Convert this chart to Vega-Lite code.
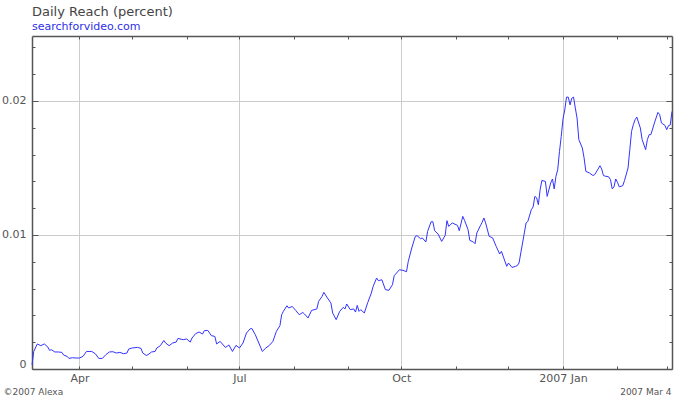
{
  "$schema": "https://vega.github.io/schema/vega-lite/v6.json",
  "width": 640,
  "height": 333,
  "autosize": {"type": "none"},
  "padding": {"left": 32, "top": 36, "right": 28, "bottom": 31},
  "background": "white",
  "title": {
    "text": "Daily Reach (percent)",
    "subtitle": "searchforvideo.com",
    "anchor": "start",
    "frame": "group",
    "font": "DejaVu Sans",
    "fontSize": 13,
    "fontWeight": "normal",
    "color": "#444444",
    "subtitleFont": "DejaVu Sans",
    "subtitleFontSize": 11,
    "subtitleColor": "#2f2fe8",
    "subtitlePadding": 2,
    "offset": 4
  },
  "config": {"view": {"stroke": null}},
  "data": {
    "values": [
      {"date": "2006-03-05", "reach": 0.00032},
      {"date": "2006-03-06", "reach": 0.00131},
      {"date": "2006-03-08", "reach": 0.00187},
      {"date": "2006-03-10", "reach": 0.00174},
      {"date": "2006-03-12", "reach": 0.00187},
      {"date": "2006-03-14", "reach": 0.00164},
      {"date": "2006-03-15", "reach": 0.00139},
      {"date": "2006-03-16", "reach": 0.00144},
      {"date": "2006-03-18", "reach": 0.00127},
      {"date": "2006-03-20", "reach": 0.00127},
      {"date": "2006-03-22", "reach": 0.00124},
      {"date": "2006-03-23", "reach": 0.00104},
      {"date": "2006-03-25", "reach": 0.00094},
      {"date": "2006-03-26", "reach": 0.00079},
      {"date": "2006-03-28", "reach": 0.00084},
      {"date": "2006-03-30", "reach": 0.00082},
      {"date": "2006-04-01", "reach": 0.00082},
      {"date": "2006-04-03", "reach": 0.00094},
      {"date": "2006-04-05", "reach": 0.00131},
      {"date": "2006-04-08", "reach": 0.00131},
      {"date": "2006-04-10", "reach": 0.00114},
      {"date": "2006-04-12", "reach": 0.00079},
      {"date": "2006-04-14", "reach": 0.00079},
      {"date": "2006-04-16", "reach": 0.00107},
      {"date": "2006-04-18", "reach": 0.00127},
      {"date": "2006-04-20", "reach": 0.00129},
      {"date": "2006-04-22", "reach": 0.00119},
      {"date": "2006-04-24", "reach": 0.00124},
      {"date": "2006-04-26", "reach": 0.00114},
      {"date": "2006-04-28", "reach": 0.00119},
      {"date": "2006-04-29", "reach": 0.00149},
      {"date": "2006-05-01", "reach": 0.00157},
      {"date": "2006-05-04", "reach": 0.00161},
      {"date": "2006-05-06", "reach": 0.00154},
      {"date": "2006-05-07", "reach": 0.00119},
      {"date": "2006-05-09", "reach": 0.00101},
      {"date": "2006-05-10", "reach": 0.00107},
      {"date": "2006-05-12", "reach": 0.00127},
      {"date": "2006-05-14", "reach": 0.00131},
      {"date": "2006-05-15", "reach": 0.00157},
      {"date": "2006-05-17", "reach": 0.00174},
      {"date": "2006-05-19", "reach": 0.00213},
      {"date": "2006-05-20", "reach": 0.00194},
      {"date": "2006-05-22", "reach": 0.00174},
      {"date": "2006-05-24", "reach": 0.00194},
      {"date": "2006-05-26", "reach": 0.00201},
      {"date": "2006-05-27", "reach": 0.00228},
      {"date": "2006-05-30", "reach": 0.00219},
      {"date": "2006-06-01", "reach": 0.00224},
      {"date": "2006-06-03", "reach": 0.00201},
      {"date": "2006-06-04", "reach": 0.00231},
      {"date": "2006-06-06", "reach": 0.00263},
      {"date": "2006-06-08", "reach": 0.00276},
      {"date": "2006-06-10", "reach": 0.00261},
      {"date": "2006-06-11", "reach": 0.00286},
      {"date": "2006-06-13", "reach": 0.00288},
      {"date": "2006-06-15", "reach": 0.00249},
      {"date": "2006-06-17", "reach": 0.00243},
      {"date": "2006-06-18", "reach": 0.00187},
      {"date": "2006-06-20", "reach": 0.00206},
      {"date": "2006-06-23", "reach": 0.00161},
      {"date": "2006-06-25", "reach": 0.00179},
      {"date": "2006-06-27", "reach": 0.00131},
      {"date": "2006-06-29", "reach": 0.00176},
      {"date": "2006-07-01", "reach": 0.00157},
      {"date": "2006-07-03", "reach": 0.00194},
      {"date": "2006-07-05", "reach": 0.00269},
      {"date": "2006-07-07", "reach": 0.00299},
      {"date": "2006-07-08", "reach": 0.00303},
      {"date": "2006-07-10", "reach": 0.00256},
      {"date": "2006-07-12", "reach": 0.00194},
      {"date": "2006-07-14", "reach": 0.00131},
      {"date": "2006-07-16", "reach": 0.00157},
      {"date": "2006-07-18", "reach": 0.00176},
      {"date": "2006-07-20", "reach": 0.00206},
      {"date": "2006-07-22", "reach": 0.00281},
      {"date": "2006-07-24", "reach": 0.00323},
      {"date": "2006-07-25", "reach": 0.00405},
      {"date": "2006-07-26", "reach": 0.00431},
      {"date": "2006-07-28", "reach": 0.00472},
      {"date": "2006-07-29", "reach": 0.00455},
      {"date": "2006-07-31", "reach": 0.00467},
      {"date": "2006-08-02", "reach": 0.00437},
      {"date": "2006-08-04", "reach": 0.00405},
      {"date": "2006-08-06", "reach": 0.00422},
      {"date": "2006-08-07", "reach": 0.00410},
      {"date": "2006-08-09", "reach": 0.00381},
      {"date": "2006-08-11", "reach": 0.00437},
      {"date": "2006-08-14", "reach": 0.00448},
      {"date": "2006-08-15", "reach": 0.00504},
      {"date": "2006-08-17", "reach": 0.00542},
      {"date": "2006-08-18", "reach": 0.00572},
      {"date": "2006-08-20", "reach": 0.00530},
      {"date": "2006-08-22", "reach": 0.00493},
      {"date": "2006-08-23", "reach": 0.00418},
      {"date": "2006-08-25", "reach": 0.00368},
      {"date": "2006-08-27", "reach": 0.00430},
      {"date": "2006-08-29", "reach": 0.00460},
      {"date": "2006-08-30", "reach": 0.00448},
      {"date": "2006-08-31", "reach": 0.00485},
      {"date": "2006-09-02", "reach": 0.00443},
      {"date": "2006-09-04", "reach": 0.00448},
      {"date": "2006-09-05", "reach": 0.00425},
      {"date": "2006-09-06", "reach": 0.00475},
      {"date": "2006-09-07", "reach": 0.00430},
      {"date": "2006-09-08", "reach": 0.00443},
      {"date": "2006-09-10", "reach": 0.00418},
      {"date": "2006-09-12", "reach": 0.00497},
      {"date": "2006-09-14", "reach": 0.00567},
      {"date": "2006-09-15", "reach": 0.00616},
      {"date": "2006-09-17", "reach": 0.00679},
      {"date": "2006-09-18", "reach": 0.00659},
      {"date": "2006-09-20", "reach": 0.00666},
      {"date": "2006-09-22", "reach": 0.00592},
      {"date": "2006-09-24", "reach": 0.00587},
      {"date": "2006-09-26", "reach": 0.00629},
      {"date": "2006-09-27", "reach": 0.00696},
      {"date": "2006-09-30", "reach": 0.00741},
      {"date": "2006-10-02", "reach": 0.00736},
      {"date": "2006-10-04", "reach": 0.00726},
      {"date": "2006-10-05", "reach": 0.00803},
      {"date": "2006-10-07", "reach": 0.00903},
      {"date": "2006-10-09", "reach": 0.00990},
      {"date": "2006-10-10", "reach": 0.00995},
      {"date": "2006-10-12", "reach": 0.00972},
      {"date": "2006-10-13", "reach": 0.00978},
      {"date": "2006-10-15", "reach": 0.00948},
      {"date": "2006-10-16", "reach": 0.01027},
      {"date": "2006-10-18", "reach": 0.01099},
      {"date": "2006-10-19", "reach": 0.01099},
      {"date": "2006-10-20", "reach": 0.01032},
      {"date": "2006-10-22", "reach": 0.01007},
      {"date": "2006-10-24", "reach": 0.00952},
      {"date": "2006-10-26", "reach": 0.00997},
      {"date": "2006-10-27", "reach": 0.01107},
      {"date": "2006-10-28", "reach": 0.01064},
      {"date": "2006-10-30", "reach": 0.01090},
      {"date": "2006-10-31", "reach": 0.01084},
      {"date": "2006-11-02", "reach": 0.01072},
      {"date": "2006-11-03", "reach": 0.01032},
      {"date": "2006-11-05", "reach": 0.01139},
      {"date": "2006-11-06", "reach": 0.01109},
      {"date": "2006-11-08", "reach": 0.01040},
      {"date": "2006-11-09", "reach": 0.00960},
      {"date": "2006-11-11", "reach": 0.00948},
      {"date": "2006-11-12", "reach": 0.00935},
      {"date": "2006-11-13", "reach": 0.01015},
      {"date": "2006-11-15", "reach": 0.01069},
      {"date": "2006-11-16", "reach": 0.01094},
      {"date": "2006-11-17", "reach": 0.01127},
      {"date": "2006-11-18", "reach": 0.01090},
      {"date": "2006-11-20", "reach": 0.00990},
      {"date": "2006-11-22", "reach": 0.00978},
      {"date": "2006-11-24", "reach": 0.00915},
      {"date": "2006-11-26", "reach": 0.00858},
      {"date": "2006-11-27", "reach": 0.00878},
      {"date": "2006-11-30", "reach": 0.00766},
      {"date": "2006-12-01", "reach": 0.00791},
      {"date": "2006-12-03", "reach": 0.00758},
      {"date": "2006-12-05", "reach": 0.00766},
      {"date": "2006-12-06", "reach": 0.00771},
      {"date": "2006-12-07", "reach": 0.00791},
      {"date": "2006-12-08", "reach": 0.00866},
      {"date": "2006-12-09", "reach": 0.00940},
      {"date": "2006-12-11", "reach": 0.01090},
      {"date": "2006-12-12", "reach": 0.01101},
      {"date": "2006-12-14", "reach": 0.01189},
      {"date": "2006-12-15", "reach": 0.01209},
      {"date": "2006-12-16", "reach": 0.01288},
      {"date": "2006-12-17", "reach": 0.01278},
      {"date": "2006-12-18", "reach": 0.01226},
      {"date": "2006-12-19", "reach": 0.01338},
      {"date": "2006-12-20", "reach": 0.01407},
      {"date": "2006-12-22", "reach": 0.01400},
      {"date": "2006-12-23", "reach": 0.01288},
      {"date": "2006-12-25", "reach": 0.01388},
      {"date": "2006-12-26", "reach": 0.01418},
      {"date": "2006-12-27", "reach": 0.01344},
      {"date": "2006-12-28", "reach": 0.01438},
      {"date": "2006-12-29", "reach": 0.01487},
      {"date": "2006-12-30", "reach": 0.01623},
      {"date": "2006-12-31", "reach": 0.01735},
      {"date": "2007-01-01", "reach": 0.01865},
      {"date": "2007-01-02", "reach": 0.01933},
      {"date": "2007-01-03", "reach": 0.02029},
      {"date": "2007-01-04", "reach": 0.02029},
      {"date": "2007-01-05", "reach": 0.01971},
      {"date": "2007-01-06", "reach": 0.02021},
      {"date": "2007-01-07", "reach": 0.02029},
      {"date": "2007-01-08", "reach": 0.01948},
      {"date": "2007-01-09", "reach": 0.01873},
      {"date": "2007-01-10", "reach": 0.01712},
      {"date": "2007-01-12", "reach": 0.01649},
      {"date": "2007-01-13", "reach": 0.01575},
      {"date": "2007-01-14", "reach": 0.01475},
      {"date": "2007-01-16", "reach": 0.01463},
      {"date": "2007-01-18", "reach": 0.01444},
      {"date": "2007-01-19", "reach": 0.01450},
      {"date": "2007-01-21", "reach": 0.01493},
      {"date": "2007-01-22", "reach": 0.01517},
      {"date": "2007-01-23", "reach": 0.01493},
      {"date": "2007-01-24", "reach": 0.01444},
      {"date": "2007-01-25", "reach": 0.01439},
      {"date": "2007-01-27", "reach": 0.01434},
      {"date": "2007-01-28", "reach": 0.01413},
      {"date": "2007-01-29", "reach": 0.01344},
      {"date": "2007-01-30", "reach": 0.01359},
      {"date": "2007-01-31", "reach": 0.01418},
      {"date": "2007-02-01", "reach": 0.01393},
      {"date": "2007-02-02", "reach": 0.01359},
      {"date": "2007-02-04", "reach": 0.01368},
      {"date": "2007-02-05", "reach": 0.01407},
      {"date": "2007-02-07", "reach": 0.01500},
      {"date": "2007-02-08", "reach": 0.01637},
      {"date": "2007-02-09", "reach": 0.01773},
      {"date": "2007-02-10", "reach": 0.01823},
      {"date": "2007-02-11", "reach": 0.01860},
      {"date": "2007-02-12", "reach": 0.01880},
      {"date": "2007-02-14", "reach": 0.01798},
      {"date": "2007-02-15", "reach": 0.01712},
      {"date": "2007-02-17", "reach": 0.01637},
      {"date": "2007-02-18", "reach": 0.01712},
      {"date": "2007-02-19", "reach": 0.01749},
      {"date": "2007-02-20", "reach": 0.01749},
      {"date": "2007-02-22", "reach": 0.01836},
      {"date": "2007-02-24", "reach": 0.01915},
      {"date": "2007-02-25", "reach": 0.01898},
      {"date": "2007-02-26", "reach": 0.01836},
      {"date": "2007-02-28", "reach": 0.01818},
      {"date": "2007-03-01", "reach": 0.01786},
      {"date": "2007-03-02", "reach": 0.01816},
      {"date": "2007-03-03", "reach": 0.01821},
      {"date": "2007-03-04", "reach": 0.01922}
    ]
  },
  "layer": [
    {
      "mark": {"type": "line", "color": "#3333ff", "strokeWidth": 1},
      "encoding": {
        "x": {
          "field": "date",
          "type": "temporal",
          "scale": {
            "type": "utc",
            "domain": [
              {"year": 2006, "month": 3, "date": 5, "utc": true},
              {"year": 2007, "month": 3, "date": 4, "utc": true}
            ]
          },
          "axis": {
            "orient": "bottom",
            "title": null,
            "values": [
              {"year": 2006, "month": 4, "date": 1, "utc": true},
              {"year": 2006, "month": 5, "date": 1, "utc": true},
              {"year": 2006, "month": 6, "date": 1, "utc": true},
              {"year": 2006, "month": 7, "date": 1, "utc": true},
              {"year": 2006, "month": 8, "date": 1, "utc": true},
              {"year": 2006, "month": 9, "date": 1, "utc": true},
              {"year": 2006, "month": 10, "date": 1, "utc": true},
              {"year": 2006, "month": 11, "date": 1, "utc": true},
              {"year": 2006, "month": 12, "date": 1, "utc": true},
              {"year": 2007, "month": 1, "date": 1, "utc": true},
              {"year": 2007, "month": 2, "date": 1, "utc": true},
              {"year": 2007, "month": 3, "date": 1, "utc": true}
            ],
            "labelExpr": "utcmonth(datum.value) == 0 ? utcFormat(datum.value, '%Y %b') : (utcmonth(datum.value) % 3 == 0 ? utcFormat(datum.value, '%b') : '')",
            "labelOverlap": false,
            "labelFlush": false,
            "labelFont": "DejaVu Sans",
            "labelFontSize": 11,
            "labelColor": "#555555",
            "labelPadding": 6,
            "grid": true,
            "gridColor": "#cccccc",
            "gridWidth": 1,
            "gridOpacity": {"condition": {"test": "utcmonth(datum.value) % 3 == 0", "value": 1}, "value": 0},
            "tickSize": -3,
            "tickColor": "#555555",
            "tickWidth": 1,
            "domainColor": "#555555",
            "domainWidth": 1.5
          }
        },
        "y": {
          "field": "reach",
          "type": "quantitative",
          "scale": {"domain": [0, 0.02485], "nice": false, "zero": true},
          "axis": {
            "orient": "left",
            "values": [0, 0.002, 0.004, 0.006, 0.008, 0.01, 0.012, 0.014, 0.016, 0.018, 0.02, 0.022, 0.024],
            "labelExpr": "abs(datum.value * 100 - round(datum.value * 100)) < 0.000001 ? format(datum.value, '.2~f') : ''",
            "labelOverlap": false,
            "labelFlush": true,
            "labelFont": "DejaVu Sans",
            "labelFontSize": 11,
            "labelColor": "#555555",
            "labelPadding": 12,
            "grid": true,
            "gridColor": "#cccccc",
            "gridWidth": 1,
            "gridOpacity": {"condition": {"test": "abs(datum.value * 100 - round(datum.value * 100)) < 0.000001 && datum.value > 0", "value": 1}, "value": 0},
            "tickSize": {"condition": {"test": "abs(datum.value * 100 - round(datum.value * 100)) < 0.000001", "value": -6}, "value": -3},
            "tickColor": "#555555",
            "tickWidth": 1,
            "domainColor": "#555555",
            "domainWidth": 1.5,
            "title": "©2007 Alexa",
            "titleAngle": 0,
            "titleAlign": "left",
            "titleBaseline": "alphabetic",
            "titleX": -29,
            "titleY": 358,
            "titleFont": "DejaVu Sans",
            "titleFontSize": 9,
            "titleFontWeight": "normal",
            "titleColor": "#555555"
          }
        }
      }
    },
    {
      "mark": {"type": "line", "opacity": 0, "strokeOpacity": 0},
      "encoding": {
        "x": {
          "field": "date",
          "type": "temporal",
          "axis": {
            "orient": "top",
            "title": null,
            "labels": false,
            "grid": false,
            "values": [
              {"year": 2006, "month": 4, "date": 1, "utc": true},
              {"year": 2006, "month": 5, "date": 1, "utc": true},
              {"year": 2006, "month": 6, "date": 1, "utc": true},
              {"year": 2006, "month": 7, "date": 1, "utc": true},
              {"year": 2006, "month": 8, "date": 1, "utc": true},
              {"year": 2006, "month": 9, "date": 1, "utc": true},
              {"year": 2006, "month": 10, "date": 1, "utc": true},
              {"year": 2006, "month": 11, "date": 1, "utc": true},
              {"year": 2006, "month": 12, "date": 1, "utc": true},
              {"year": 2007, "month": 1, "date": 1, "utc": true},
              {"year": 2007, "month": 2, "date": 1, "utc": true},
              {"year": 2007, "month": 3, "date": 1, "utc": true}
            ],
            "tickSize": -3,
            "tickColor": "#555555",
            "tickWidth": 1,
            "domainColor": "#555555",
            "domainWidth": 1.5
          }
        },
        "y": {
          "field": "reach",
          "type": "quantitative",
          "axis": {
            "orient": "right",
            "labels": false,
            "grid": false,
            "values": [0, 0.002, 0.004, 0.006, 0.008, 0.01, 0.012, 0.014, 0.016, 0.018, 0.02, 0.022, 0.024],
            "tickSize": {"condition": {"test": "abs(datum.value * 100 - round(datum.value * 100)) < 0.000001", "value": -6}, "value": -3},
            "tickColor": "#555555",
            "tickWidth": 1,
            "domainColor": "#555555",
            "domainWidth": 1.5,
            "title": "2007 Mar 4",
            "titleAngle": 0,
            "titleAlign": "right",
            "titleBaseline": "alphabetic",
            "titleX": -1,
            "titleY": 358,
            "titleFont": "DejaVu Sans",
            "titleFontSize": 9,
            "titleFontWeight": "normal",
            "titleColor": "#555555"
          }
        }
      }
    }
  ],
  "resolve": {"axis": {"x": "independent", "y": "independent"}}
}
